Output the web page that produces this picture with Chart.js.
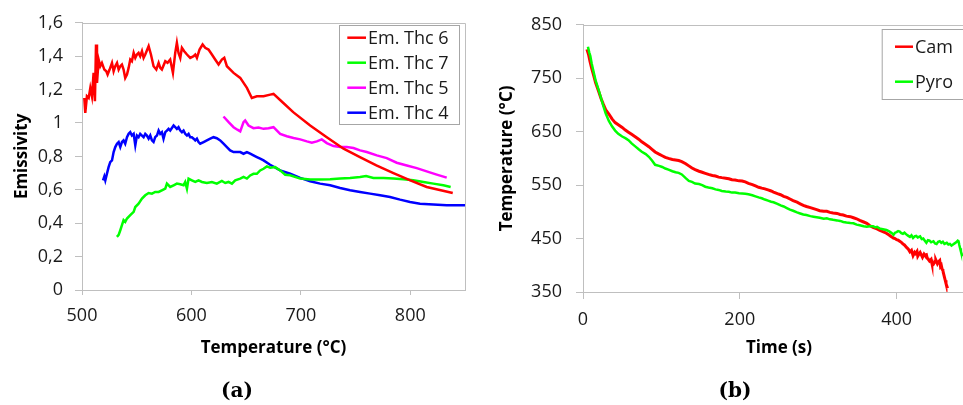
<!DOCTYPE html>
<html>
<head>
<meta charset="utf-8">
<script src="https://cdn.jsdelivr.net/npm/chart.js@4.4.0/dist/chart.umd.min.js"></script>
<style>
html, body { margin: 0; padding: 0; background: #fff; overflow: hidden; width: 963px; height: 405px; }
#boxA { position: absolute; left: 0; top: 0; }
#boxB { position: absolute; left: 480px; top: 0; }
.cap { position: absolute; top: 377px; width: 60px; text-align: center; font-family: "DejaVu Serif", serif; font-weight: bold; font-size: 20px; line-height: 26px; color: #000; }
</style>
</head>
<body>
<div id="boxA"><canvas id="chartA" width="480" height="405"></canvas></div>
<div id="boxB"><canvas id="chartB" width="520" height="405"></canvas></div>
<div class="cap" style="left:207px">(a)</div>
<div class="cap" style="left:705px">(b)</div>
<script>
// (a) emissivity vs temperature
const thc6T = [502.1,503.0,504.5,506.1,507.6,509.1,510.6,511.8,512.8,513.7,515.2,516.7,518.2,520.4,522.2,523.4,525.2,527.4,528.9,530.4,532.0,533.5,535.0,536.5,538.0,539.5,541.1,542.6,544.1,545.6,547.2,548.7,550.2,551.7,553.2,554.8,556.3,557.8,560.9,563.0,565.4,567.9,570.0,571.5,573.0,576.1,578.2,580.6,583.1,585.2,586.7,588.2,589.8,591.3,593.4,595.9,598.9,602.0,603.5,605.0,607.4,610.2,612.6,615.6,618.7,621.7,624.8,627.8,630.0,632.4,638.5,644.6,650.7,655.2,659.8,665.9,672.0,675,684,693,708.5,723.7,739,754,769,784.6,800,815,838.8];
const thc6E = [1.15,1.06,1.16,1.15,1.21,1.16,1.30,1.13,1.47,1.24,1.38,1.34,1.36,1.32,1.31,1.29,1.32,1.36,1.31,1.34,1.36,1.32,1.34,1.35,1.32,1.27,1.29,1.33,1.38,1.37,1.42,1.39,1.41,1.42,1.40,1.43,1.39,1.41,1.46,1.41,1.34,1.32,1.36,1.33,1.32,1.37,1.36,1.38,1.30,1.42,1.48,1.42,1.39,1.45,1.43,1.41,1.39,1.40,1.41,1.39,1.44,1.47,1.45,1.44,1.41,1.38,1.35,1.38,1.39,1.34,1.30,1.27,1.21,1.15,1.16,1.16,1.17,1.174,1.12,1.065,0.985,0.915,0.846,0.796,0.746,0.70,0.657,0.617,0.581];

const thc7T = [531.9,533.5,535,536.5,538,539.5,541.1,544.1,547.2,548.7,551.7,554.8,557.8,560.9,563.9,566.9,570,573,576.1,577.6,580.6,583.7,586.7,589.8,592.8,594.3,595.9,597.4,600.4,603.5,606.5,609.6,614.1,618.7,623.2,627.8,630.9,633.9,637,640,644.6,647.6,650.7,653.7,656.7,659.8,662.8,665.9,668.9,672,676.5,681.1,685.7,690.2,699.4,708.5,717.6,726.8,735.9,745,754.1,759.6,766.3,775.5,784.6,793.7,802.8,812,821.1,830.2,836.9];
const thc7E = [0.318,0.33,0.358,0.388,0.418,0.408,0.428,0.448,0.468,0.497,0.517,0.547,0.567,0.581,0.577,0.587,0.587,0.597,0.607,0.637,0.617,0.627,0.637,0.633,0.627,0.647,0.607,0.667,0.657,0.647,0.657,0.647,0.641,0.647,0.637,0.653,0.641,0.647,0.637,0.657,0.667,0.677,0.667,0.686,0.696,0.696,0.716,0.726,0.74,0.732,0.736,0.716,0.69,0.687,0.667,0.661,0.661,0.663,0.667,0.671,0.677,0.683,0.671,0.671,0.667,0.663,0.657,0.647,0.637,0.627,0.617];

const thc5T = [629.3,634,638.5,642,644.6,647.6,649.1,652.2,656.7,661.3,665.9,670.4,675,681.1,687.2,693.3,699.4,705.5,710,714.6,719.1,723.7,729.8,735.9,742,748.1,754.1,760.2,769.4,778.5,787.6,796.8,805.9,815,824.2,833.3];
const thc5E = [1.039,1.005,0.975,0.96,0.95,1.005,1.015,0.985,0.969,0.973,0.965,0.969,0.975,0.935,0.921,0.91,0.902,0.89,0.882,0.89,0.902,0.88,0.862,0.856,0.856,0.85,0.836,0.826,0.806,0.79,0.762,0.746,0.73,0.71,0.691,0.673];

const thc4T = [519.2,520.4,521.3,522.8,524.3,525.8,527.4,528.9,530.4,532.0,533.5,535.0,536.5,538.0,539.5,541.1,542.6,544.1,545.6,547.2,548.7,550.2,551.7,553.2,554.8,556.3,557.8,559.3,560.9,562.4,563.9,565.4,566.9,568.5,570.0,571.5,573.0,574.5,576.1,577.6,579.1,580.6,583.7,585.2,586.7,588.2,589.8,591.3,592.8,594.3,595.9,597.4,598.9,600.4,602.0,603.5,605.0,606.5,608,611.1,614.1,617.2,620.2,623.2,626.3,629.3,632.4,635.4,638.5,641.5,644.6,647.6,650.7,653.7,656.7,659.8,662.8,665.9,671.9,681.1,690.2,699.4,708.5,717.6,726.8,735.9,745,754.1,763.3,772.4,781.5,790.7,799.8,808.9,821.1,833.3,850];
const thc4E = [0.657,0.68,0.657,0.697,0.736,0.766,0.776,0.826,0.856,0.876,0.886,0.856,0.886,0.896,0.876,0.915,0.935,0.945,0.925,0.935,0.866,0.925,0.915,0.935,0.925,0.915,0.935,0.925,0.906,0.925,0.896,0.886,0.915,0.925,0.955,0.935,0.945,0.906,0.945,0.955,0.965,0.955,0.985,0.975,0.965,0.975,0.955,0.945,0.955,0.935,0.925,0.935,0.915,0.915,0.906,0.896,0.906,0.886,0.876,0.886,0.896,0.906,0.915,0.909,0.896,0.876,0.856,0.836,0.826,0.826,0.826,0.816,0.826,0.816,0.806,0.796,0.786,0.776,0.75,0.716,0.696,0.671,0.651,0.637,0.627,0.611,0.597,0.587,0.577,0.567,0.557,0.541,0.527,0.517,0.512,0.508,0.508];

// (b) temperature vs time
const camTime = [5,7,9,11,13.5,16,20,23,26,29,33,37,41,45,50,54,58,62,67,71,75,80,84,88,92,97,101,105,109,114,118,122,126,131,135,139,143,148,152,156,160,165,169,173,177,182,186,190,194,199,203,207,211,216,220,224,228,232,236,240,243,248,252,256,260,264,268,273,277,281,285,290,294,298,302,307,311,315,319,324,328,332,336,341,345,349,353,358,362,366,370,375,378,381,384,387,390,392,394,396,398,400,402,404,406,408,410,413,415,417,419,421,423,424,426,427,429,430,432,433,435,436,438,439,440,442,444,445,447,449,450,452,453,455,456,457,458,459,460,461,462,463,464,465];
const camTemp = [804,795,781,769,756,742,725,712,701,691,683,674,667,663,658,653,649,645,640,636,631,626,622,617,612,608,605,602,600,598,597,596,594,590,586,582,579,576,574,572,570,568,567,565,564,563,562,560,559.5,558,557.7,556,553.4,551,548.5,546,544.3,543,541,539,537,534,532,529,527,524,521,518,515,512,510,508,506,504,502,501,501,499,498,497,495,494,492,491,489,487,484,481,478.5,474,471,468,466,464,462,460,457,455,453,451,450,448,447,445,443,440,438,433,430,425,428,418,424,422,426,417,422,424,418,415,421,419,420,414,412,408,411,404,402,407,410,403,406,409,398,400,393,390,384,378,372,366,361,357];

const pyroTime = [6.3,8,9.3,11,13.5,16,20,23,26,29,33,37,41,45,50,54,58,62,67,71,75,80,84,88,92,97,101,105,109,114,118,122,126,131,135,139,143,148,152,156,160,165,169,173,177,182,186,190,194,199,203,207,211,216,220,224,228,232,236,240,243,248,252,256,260,264,268,273,277,281,285,290,294,298,302,307,311,315,319,324,328,332,336,341,345,349,353,358,362,366,370,373,375,378,381,384,387,390,392,394,396,398,400,402,404,406,408,410,413,415,417,419,421,423,425,427,430,432,434,436,438,440,442,444,447,449,451,453,455,457,459,461,464,466,468,470,472,474,476,478,479,480,481,482,483,485];
const pyroTemp = [809,798,792,778,762,746,728,713,698,684,670,660,652,646,641,638,634,628,622,617,612.5,608,603,596,588,586,584,581,579,576,574,573,570,563,558,556,553,552,550,547,545.5,544,542,541,539,538,537.6,536,536,535,534.5,534,533,531,529,527,525.4,523,521,519,518,515,512,510,507,504,502,499,497,495,494,492,491,490,489,487,488,486,485,484,483,481,480,479,478.5,476,475,473,472,473,473,471,472,469,468,467,466,464,462,460,457,461,462,464,463,460,459,461,457,455,453,456,451,454,455,452,454,449,450,446,442,447,446,443,445,441,440,444,445,442,444,440,442,439,440,437,439,441,443,446,445,438,432,426,421,418];

const axisGray = '#bfbfbf';
const tickFont = { family: 'Open Sans', size: 18 };
const titleFont = { family: 'Open Sans', size: 17, weight: 'bold' };

function pts(xs, ys) {
  return xs.map((x, i) => ({ x: x, y: ys[i] }));
}

const framePlugin = {
  id: 'frame',
  beforeDatasetsDraw(chart) {
    const a = chart.chartArea, ctx = chart.ctx;
    ctx.save();
    ctx.strokeStyle = axisGray;
    ctx.lineWidth = 1;
    ctx.beginPath();
    ctx.moveTo(Math.round(a.left) + 0.5, Math.round(a.top) + 0.5);
    ctx.lineTo(Math.round(a.right) + 0.5, Math.round(a.top) + 0.5);
    ctx.lineTo(Math.round(a.right) + 0.5, Math.round(a.bottom) + 0.5);
    ctx.stroke();
    ctx.restore();
  }
};

const boxLegend = {
  id: 'boxLegend',
  afterDraw(chart, args, o) {
    const ctx = chart.ctx;
    ctx.save();
    ctx.fillStyle = '#fff';
    ctx.fillRect(o.x, o.y, o.w, o.h);
    ctx.strokeStyle = '#a6a6a6';
    ctx.lineWidth = 1;
    ctx.strokeRect(o.x + 0.5, o.y + 0.5, o.w, o.h);
    ctx.font = o.size + 'px "Open Sans"';
    ctx.textBaseline = 'middle';
    chart.data.datasets.forEach((ds, i) => {
      const cy = o.y + o.first + i * o.step;
      ctx.strokeStyle = ds.borderColor;
      ctx.lineWidth = 2.5;
      ctx.beginPath();
      ctx.moveTo(o.x + o.lineX, cy);
      ctx.lineTo(o.x + o.lineX + o.lineLen, cy);
      ctx.stroke();
      ctx.fillStyle = '#1a1a1a';
      ctx.fillText(ds.label, o.x + o.lineX + o.lineLen + 2, cy + 1);
    });
    ctx.restore();
  }
};

function line(label, data, color, width, order) {
  return { label: label, data: data, borderColor: color, backgroundColor: color, borderWidth: width,
           pointRadius: 0, tension: 0, fill: false, order: order };
}

function xAxis(min, max, step, text, tickLen, titlePad) {
  return {
    type: 'linear', min: min, max: max,
    ticks: { stepSize: step, includeBounds: false, padding: 10, color: '#1a1a1a', font: tickFont, maxRotation: 0 },
    grid: { drawOnChartArea: false, drawTicks: true, tickLength: tickLen, tickColor: axisGray, color: axisGray },
    border: { color: axisGray, width: 1 },
    title: { display: true, text: text, font: titleFont, color: '#000', padding: { top: 0, bottom: titlePad } },
    afterFit: s => { s.height = 70; }
  };
}

function yAxis(min, max, step, text, tickLen, tickPad, width, titlePad, fmt) {
  return {
    type: 'linear', min: min, max: max,
    ticks: { stepSize: step, padding: tickPad, color: '#1a1a1a', font: tickFont, callback: fmt },
    grid: { drawOnChartArea: false, drawTicks: true, tickLength: tickLen, tickColor: axisGray, color: axisGray },
    border: { color: axisGray, width: 1 },
    title: { display: true, text: text, font: titleFont, color: '#000', padding: { top: titlePad, bottom: 0 } },
    afterFit: s => { s.width = width; }
  };
}

new Chart(document.getElementById('chartA'), {
  type: 'line',
  data: {
    datasets: [
      line('Em. Thc 6', pts(thc6T, thc6E), '#ff0000', 2.5, 0),
      line('Em. Thc 7', pts(thc7T, thc7E), '#00ff00', 2.5, 2),
      line('Em. Thc 5', pts(thc5T, thc5E), '#ff00ff', 2.5, 1),
      line('Em. Thc 4', pts(thc4T, thc4E), '#0000ff', 2.5, 3)
    ]
  },
  options: {
    responsive: false,
    animation: false,
    layout: { padding: { left: 0, top: 21, right: 15, bottom: 45 } },
    plugins: {
      legend: { display: false },
      tooltip: { enabled: false },
      boxLegend: { x: 339, y: 25, w: 120, h: 99, first: 12.7, step: 25, lineX: 8.3, lineLen: 18.7, size: 18 }
    },
    scales: {
      x: xAxis(500, 850, 100, 'Temperature (°C)', 5, 2),
      y: yAxis(0, 1.6, 0.2, 'Emissivity', 7, 12, 82, 12,
               v => String(Number(v.toFixed(1))).replace('.', ','))
    }
  },
  plugins: [framePlugin, boxLegend]
});

new Chart(document.getElementById('chartB'), {
  type: 'line',
  data: {
    datasets: [
      line('Cam', pts(camTime, camTemp), '#ff0000', 3, 1),
      line('Pyro', pts(pyroTime, pyroTemp), '#00ff00', 2.5, 0)
    ]
  },
  options: {
    responsive: false,
    animation: false,
    layout: { padding: { left: 0, top: 18, right: 25, bottom: 43 } },
    plugins: {
      legend: { display: false },
      tooltip: { enabled: false },
      boxLegend: { x: 401.7, y: 29, w: 95, h: 70, first: 17.7, step: 35, lineX: 13.3, lineLen: 18, size: 18 }
    },
    scales: {
      x: xAxis(0, 500, 200, 'Time (s)', 7, 4),
      y: yAxis(350, 850, 100, 'Temperature (°C)', 7, 14, 103, 17, v => v)
    }
  },
  plugins: [framePlugin, boxLegend]
});
</script>
</body>
</html>
